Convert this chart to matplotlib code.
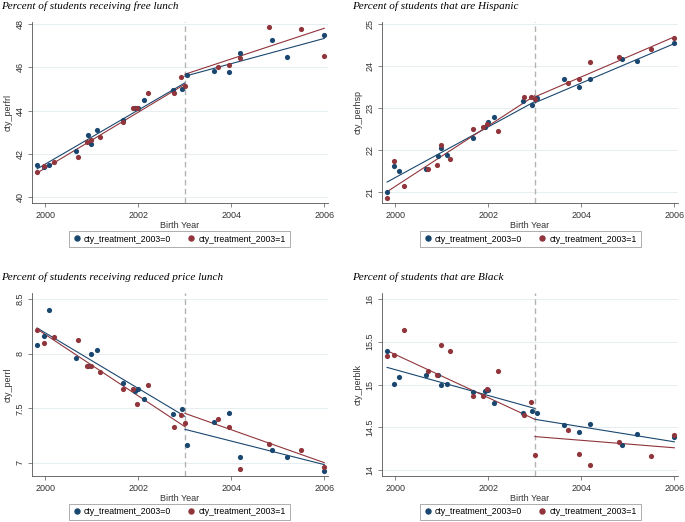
import matplotlib
matplotlib.use("Agg")
import matplotlib.pyplot as plt
from matplotlib.lines import Line2D

# bin positions (birth year) of the binned scatter, same in every panel
years_0 = [1999.82, 1999.96, 2000.08, 2000.65, 2000.91, 2000.99, 2001.10, 2001.66, 2001.92, 2001.99,
           2002.11, 2002.74, 2002.94, 2003.05, 2003.63, 2003.96, 2004.18, 2004.88, 2005.19, 2006.00]
years_1 = [1999.81, 1999.97, 2000.18, 2000.69, 2000.90, 2000.97, 2001.18, 2001.67, 2001.89, 2001.98,
           2002.21, 2002.77, 2002.92, 2003.00, 2003.71, 2003.96, 2004.19, 2004.82, 2005.49, 2005.99]

# fitted lines: before and after the 2003 cutoff
pre_years = [1999.82, 2003.0]
post_years = [2003.0, 2006.0]

# free lunch
frl_0 = [41.47, 41.39, 41.48, 42.12, 42.89, 42.47, 43.10, 43.57, 44.12, 44.14,
         44.51, 44.97, 44.99, 45.64, 45.84, 45.79, 46.66, 47.27, 46.46, 47.49]
frl_1 = [41.16, 41.45, 41.61, 41.85, 42.56, 42.64, 42.76, 43.49, 44.14, 44.14,
         44.79, 44.79, 45.57, 45.14, 46.00, 46.10, 46.44, 47.85, 47.77, 46.53]
frl_fit_0 = ([41.30, 45.28], [45.59, 47.34])
frl_fit_1 = ([41.11, 45.22], [45.68, 47.81])

# hispanic
hsp_0 = [21.00, 21.63, 21.50, 21.54, 21.85, 22.06, 21.89, 22.30, 22.54, 22.66,
         22.79, 23.18, 23.07, 23.24, 23.69, 23.50, 23.70, 24.18, 24.13, 24.56]
hsp_1 = [20.86, 21.75, 21.15, 21.54, 21.65, 22.12, 21.79, 22.50, 22.56, 22.62,
         22.46, 23.26, 23.26, 23.22, 23.59, 23.70, 24.09, 24.22, 24.40, 24.68]
hsp_fit_0 = ([21.24, 23.16], [23.13, 24.54])
hsp_fit_1 = ([21.01, 23.30], [23.27, 24.70])

# reduced price lunch
rl_0 = [8.082, 8.162, 8.396, 7.960, 7.890, 8.000, 8.034, 7.729, 7.655, 7.674,
        7.582, 7.445, 7.494, 7.168, 7.372, 7.457, 7.052, 7.119, 7.055, 6.924]
rl_1 = [8.213, 8.100, 8.155, 8.128, 7.890, 7.890, 7.835, 7.680, 7.680, 7.543,
        7.716, 7.329, 7.436, 7.363, 7.405, 7.329, 6.948, 7.177, 7.119, 6.960]
rl_fit_0 = ([8.235, 7.427], [7.308, 6.985])
rl_fit_1 = ([8.225, 7.332], [7.454, 7.003])

# black
blk_0 = [15.388, 15.004, 15.085, 15.109, 15.110, 15.000, 15.004, 14.907, 14.919, 14.934,
         14.783, 14.671, 14.690, 14.670, 14.523, 14.446, 14.535, 14.287, 14.426, 14.391]
blk_1 = [15.337, 15.341, 15.643, 15.159, 15.112, 15.461, 15.391, 14.860, 14.868, 14.946,
         15.163, 14.640, 14.790, 14.178, 14.473, 14.186, 14.058, 14.326, 14.163, 14.411]
blk_fit_0 = ([15.20, 14.72], [14.593, 14.33])
blk_fit_1 = ([15.395, 14.593], [14.391, 14.26])

titles = ["Percent of students receiving free lunch", "Percent of students that are Hispanic",
          "Percent of students receiving reduced price lunch", "Percent of students that are Black"]
ylabels = ["cty_perfrl", "cty_perhsp", "cty_perrl", "cty_perblk"]
yticks = [[40, 42, 44, 46, 48], [21, 22, 23, 24, 25], [7, 7.5, 8, 8.5], [14, 14.5, 15, 15.5, 16]]
ylims = [(39.72, 48.1), (20.74, 25.055), (6.881, 8.555), (13.93, 16.07)]
xticks = [2000, 2002, 2004, 2006]
legend_labels = ["cty_treatment_2003=0", "cty_treatment_2003=1"]

NAVY = "#1a476f"
MAROON = "#90353b"
W, H = 685, 522

plt.rcParams["font.family"] = ["Liberation Sans", "DejaVu Sans"]
fig = plt.figure(figsize=(W / 100, H / 100), dpi=100)

# pixel boxes: left, top, right, bottom
boxes = [(32, 22, 328, 203), (382, 22, 678, 203), (32, 293, 328, 476), (382, 293, 678, 476)]
title_pos = [(1, 6), (352, 6), (1, 277), (352, 277)]
legend_pos = [(179, 239), (530, 239), (179, 512), (530, 512)]

data = [(frl_0, frl_1, frl_fit_0, frl_fit_1), (hsp_0, hsp_1, hsp_fit_0, hsp_fit_1),
        (rl_0, rl_1, rl_fit_0, rl_fit_1), (blk_0, blk_1, blk_fit_0, blk_fit_1)]

for i, (y0, y1, fit0, fit1) in enumerate(data):
    l, t, r, b = boxes[i]
    ax = fig.add_axes([l / W, 1 - b / H, (r - l) / W, (b - t) / H])
    ax.set_xlim(1999.71, 2006.08)
    ax.set_ylim(*ylims[i])
    for yt in yticks[i]:
        ax.axhline(yt, color="#e6eef1", lw=0.7, zorder=0)
    ax.axvline(2003, color="#b3b3b3", lw=1.0, ls=(0, (4, 2.5)), zorder=1)

    ax.scatter(years_0, y0, s=14, color=NAVY, zorder=3, linewidths=0)
    ax.scatter(years_1, y1, s=14, color=MAROON, zorder=3, linewidths=0)
    ax.plot(pre_years, fit0[0], color=NAVY, lw=0.8, zorder=2)
    ax.plot(post_years, fit0[1], color=NAVY, lw=0.8, zorder=2)
    ax.plot(pre_years, fit1[0], color=MAROON, lw=0.8, zorder=2)
    ax.plot(post_years, fit1[1], color=MAROON, lw=0.8, zorder=2)

    for side in ["top", "right"]:
        ax.spines[side].set_visible(False)
    for side in ["left", "bottom"]:
        ax.spines[side].set_color("#555555")
        ax.spines[side].set_linewidth(0.6)
    ax.set_xticks(xticks)
    ax.set_yticks(yticks[i])
    ax.set_yticklabels([f"{v:g}" for v in yticks[i]], rotation=90, va="center")
    ax.tick_params(length=3, width=0.5, color="#555555", labelsize=6.5, labelcolor="#333333", pad=2.5)

    ax.set_xlabel("Birth Year", fontsize=6.5, color="#333333")
    ax.xaxis.set_label_coords(0.5, -0.1)
    ax.set_ylabel(ylabels[i], fontsize=6.5, color="#333333")
    ax.yaxis.set_label_coords(-0.064, 0.5)

    tx, ty = title_pos[i]
    fig.text(tx / W, 1 - ty / H, titles[i], family="Liberation Serif", style="italic",
             fontsize=8, va="center", ha="left")

    handles = [Line2D([], [], ls="", marker="o", ms=3.6, color=NAVY),
               Line2D([], [], ls="", marker="o", ms=3.6, color=MAROON)]
    cx, cy = legend_pos[i]
    leg = fig.legend(handles, legend_labels, loc="center", bbox_to_anchor=(cx / W, 1 - cy / H),
                     ncol=2, fontsize=6.3, frameon=True, fancybox=False, handletextpad=0.3,
                     columnspacing=1.8, borderpad=0.45, handlelength=1.0)
    leg.get_frame().set_edgecolor("#888888")
    leg.get_frame().set_linewidth(0.6)

fig.savefig("out.png", dpi=100)
